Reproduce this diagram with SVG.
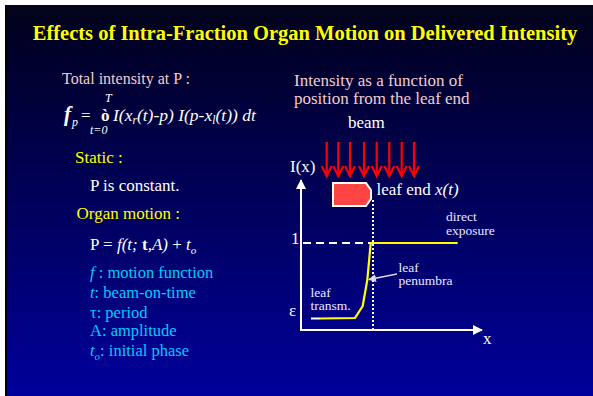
<svg xmlns="http://www.w3.org/2000/svg" width="593" height="396" viewBox="0 0 593 396">
<defs>
<linearGradient id="bg" x1="0" y1="0" x2="0" y2="1">
<stop offset="0" stop-color="#04041a"/>
<stop offset="0.12" stop-color="#00002a"/>
<stop offset="1" stop-color="#00009c"/>
</linearGradient>
<marker id="wfill" viewBox="0 0 10 10" refX="9" refY="5" markerWidth="10" markerHeight="10" markerUnits="userSpaceOnUse" orient="auto">
<path d="M0,0 L10,5 L0,10 z" fill="#ffffff"/>
</marker>
<marker id="penhead" viewBox="0 0 8 8" refX="7" refY="4" markerWidth="8" markerHeight="8" markerUnits="userSpaceOnUse" orient="auto">
<path d="M0,0 L8,4 L0,8 z" fill="#d8d8f0"/>
</marker>
<style>
text{font-family:"Liberation Serif","Times New Roman",serif;}
.title{font-size:20.5px;font-weight:bold;fill:#ffff00;}
.pink{font-size:17px;fill:#f4cccc;}
.yel{font-size:17px;fill:#ffff00;}
.wht{font-size:17px;fill:#ffffff;}
.cyan{font-size:16.5px;fill:#00ccff;}
.small{font-size:13.5px;fill:#e8e8ff;}
.it{font-style:italic;}
.arrow{stroke:#ff0000;stroke-width:2.2;fill:none;}
</style>
</defs>
<rect x="0" y="0" width="593" height="396" fill="#ffffff"/>
<rect x="5" y="5" width="588" height="391" fill="url(#bg)"/>
<rect x="5" y="5" width="2" height="391" fill="#000000"/>

<g id="title"><text class="title" x="305" y="40" text-anchor="middle">Effects of  Intra-Fraction Organ Motion on Delivered Intensity</text></g>

<g id="left-text">
<text class="pink" x="62" y="84" font-size="16" style="font-size:16px">Total intensity at P :</text>
<text x="105" y="102" font-size="12" font-style="italic" fill="#ffffff">T</text>
<text x="64" y="121" font-size="21" font-weight="bold" font-style="italic" fill="#ffffff">f</text>
<text x="72" y="126" font-size="12" font-style="italic" fill="#ffffff">p</text>
<text x="81" y="121" font-size="17" fill="#ffffff">=</text>
<text x="101" y="121" font-size="17" font-weight="bold" fill="#ffffff">ò</text>
<text x="90" y="134" font-size="12" font-style="italic" fill="#ffffff">t=0</text>
<text x="113" y="121" font-size="17.5" font-style="italic" fill="#ffffff">I(x<tspan font-size="11.5" dy="3">r</tspan><tspan dy="-3">(t)-p) I(p-x</tspan><tspan font-size="11.5" dy="3">l</tspan><tspan dy="-3">(t)) dt</tspan></text>
<text class="yel" x="75" y="163">Static :</text>
<text class="wht" x="90" y="190.5">P is constant.</text>
<text class="yel" x="76.5" y="219">Organ motion :</text>
<text class="wht" x="90" y="250">P = <tspan class="it">f(t; </tspan><tspan font-weight="bold">t</tspan><tspan class="it">,A)</tspan> + <tspan class="it">t</tspan><tspan class="it" font-size="11" dy="4">o</tspan></text>
<text class="cyan" x="90" y="277.5"><tspan class="it">f </tspan>: motion function</text>
<text class="cyan" x="90" y="297.5"><tspan class="it">t</tspan>: beam-on-time</text>
<text class="cyan" x="90" y="317.5">τ: period</text>
<text class="cyan" x="90" y="336">A: amplitude</text>
<text class="cyan" x="90" y="356"><tspan class="it">t</tspan><tspan class="it" font-size="11" dy="4">o</tspan><tspan dy="-4">: initial phase</tspan></text>
</g>

<g id="right-text">
<text class="pink" x="294" y="86">Intensity as a function of</text>
<text class="pink" x="294" y="103.5">position from the leaf end</text>
<text class="wht" x="348" y="128">beam</text>
<text class="wht" x="290" y="171.5">I(x)</text>
<text class="wht" x="376.5" y="195">leaf end <tspan class="it">x(t)</tspan></text>
<text class="wht" x="291" y="243.5">1</text>
<text class="wht" x="289" y="315.5">ε</text>
<text class="wht" x="483" y="343.5">x</text>
</g>

<g id="beam">
<g class="arrow">
<path d="M326.7,142 V176 M321.7,166 L326.7,176 L331.7,166"/>
<path d="M338.3,142 V176 M333.3,166 L338.3,176 L343.3,166"/>
<path d="M350,142 V176 M345,166 L350,176 L355,166"/>
<path d="M364,142 V176 M359,166 L364,176 L369,166"/>
<path d="M376.7,142 V176 M371.7,166 L376.7,176 L381.7,166"/>
<path d="M389.3,142 V176 M384.3,166 L389.3,176 L394.3,166"/>
<path d="M401.7,142 V176 M396.7,166 L401.7,176 L406.7,166"/>
<path d="M414,142 V176 M409,166 L414,176 L419,166"/>
</g>
</g>

<g id="leaf">
<path d="M333,183 H366 L371,190 V199 L366,206 H333 Z" fill="#ff4444" stroke="#ffffff" stroke-width="2"/>
</g>

<g id="connectors">
<line x1="301" y1="329" x2="301" y2="180" stroke="#ffffff" stroke-width="2" marker-end="url(#wfill)"/>
<line x1="300" y1="330" x2="482" y2="330" stroke="#ffffff" stroke-width="2" marker-end="url(#wfill)"/>
<line x1="373" y1="200" x2="373" y2="329" stroke="#ffffff" stroke-width="2" stroke-dasharray="2,2"/>
<line x1="303" y1="243" x2="370" y2="243" stroke="#ffffff" stroke-width="2" stroke-dasharray="8,5"/>
<line x1="311" y1="318.5" x2="320" y2="318.5" stroke="#ffffff" stroke-width="2"/>
<polyline points="320,318.5 355,318 362.7,306 367.3,280 370.7,243 457.7,243" fill="none" stroke="#ffff00" stroke-width="2.2"/>
<line x1="397" y1="274" x2="369" y2="279.5" stroke="#d8d8f0" stroke-width="1.5" marker-end="url(#penhead)"/>
</g>

<g id="labels">
<text class="small" x="446" y="220.5">direct</text>
<text class="small" x="446" y="235">exposure</text>
<text class="small" x="398.5" y="271.5">leaf</text>
<text class="small" x="398.5" y="285">penumbra</text>
<text class="small" x="310.5" y="296.5">leaf</text>
<text class="small" x="310.5" y="310">transm.</text>
</g>
</svg>
